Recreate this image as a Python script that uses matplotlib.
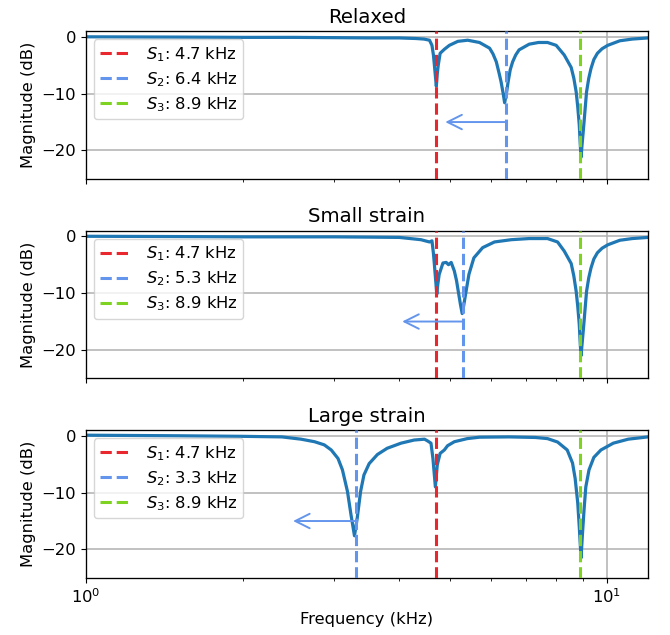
import matplotlib
matplotlib.use("Agg")
import matplotlib.pyplot as plt

# ---------------- data ----------------
titles = ["Relaxed", "Small strain", "Large strain"]
s1_vals = [4.7, 4.7, 4.7]
s2_vals = [6.4, 5.3, 3.3]
s3_vals = [8.9, 8.9, 8.9]
arrow_heads = [4.9, 4.05, 2.5]
arrow_y = -15

freq_relaxed = [1.0, 1.5, 2.0, 2.5, 3.0, 3.5, 4.0, 4.3, 4.46, 4.57, 4.62, 4.65, 4.67,
                4.71, 4.73, 4.75, 4.79, 4.88, 4.99, 5.18, 5.41, 5.70, 5.96, 6.05, 6.14,
                6.22, 6.27, 6.33, 6.37, 6.42, 6.47, 6.53, 6.60, 6.69, 6.79, 7.10, 7.4,
                7.7, 8.0, 8.29, 8.55, 8.65, 8.74, 8.80, 8.86, 8.90, 8.93, 8.97, 9.04,
                9.10, 9.15, 9.24, 9.33, 9.45, 9.6, 9.8, 10.05, 10.6, 11.2, 12.0]
db_relaxed = [0.0, -0.05, -0.1, -0.1, -0.15, -0.2, -0.2, -0.3, -0.4, -0.6, -1.5, -3.2, -5.0,
              -8.7, -6.5, -5.0, -2.9, -2.2, -1.5, -0.8, -0.6, -1.0, -2.0, -3.0, -4.4,
              -6.5, -7.9, -10.0, -11.6, -10.0, -7.9, -5.8, -4.4, -3.2, -2.3, -1.3, -1.0,
              -1.0, -1.5, -3.2, -5.4, -7.3, -9.7, -12.3, -15.5, -19.0, -21.2, -19.0, -15.5,
              -12.3, -9.7, -7.3, -5.6, -4.0, -2.9, -2.1, -1.5, -0.7, -0.4, -0.2]

freq_small = [1.0, 1.5, 2.0, 2.5, 3.0, 3.5, 4.0, 4.40, 4.57, 4.62, 4.65, 4.67, 4.72,
              4.74, 4.77, 4.85, 4.92, 4.97, 5.03, 5.10, 5.15, 5.19, 5.24, 5.28, 5.32,
              5.36, 5.44, 5.56, 5.78, 6.09, 6.56, 7.10, 7.70, 8.05, 8.29, 8.55, 8.65,
              8.74, 8.80, 8.86, 8.90, 8.93, 8.97, 9.04, 9.10, 9.15, 9.24, 9.33, 9.45,
              9.6, 9.8, 10.05, 10.6, 11.2, 12.0]
db_small = [0.0, -0.05, -0.1, -0.1, -0.1, -0.15, -0.2, -0.6, -1.0, -0.8, -3.0, -5.0, -10.2,
            -8.5, -6.7, -4.7, -4.6, -5.0, -4.6, -6.1, -7.8, -9.7, -12.0, -13.6, -12.0,
            -10.2, -6.7, -3.8, -2.0, -1.0, -0.6, -0.4, -0.4, -1.0, -2.6, -4.8, -7.0,
            -9.7, -12.3, -15.5, -19.0, -21.0, -19.0, -15.5, -12.3, -9.7, -7.3, -5.6, -4.0,
            -2.9, -2.1, -1.5, -0.7, -0.4, -0.2]

freq_large = [1.0, 1.5, 2.0, 2.38, 2.59, 2.75, 2.87, 2.96, 3.05, 3.11, 3.18, 3.23,
              3.28, 3.32, 3.37, 3.42, 3.50, 3.63, 3.79, 4.03, 4.27, 4.47, 4.53,
              4.60, 4.64, 4.69, 4.73, 4.79, 4.88, 4.95, 5.10, 5.4, 5.7, 6.5, 7.3,
              7.7, 8.05, 8.4, 8.6, 8.7, 8.8, 8.86, 8.93, 8.99, 9.05, 9.12, 9.25,
              9.45, 9.75, 10.3, 11.0, 12.0]
db_large = [0.1, 0.0, -0.1, -0.2, -0.6, -1.05, -1.6, -2.5, -4.0, -6.0, -9.8, -13.9,
            -17.6, -14.5, -9.8, -6.9, -4.9, -3.3, -2.2, -1.3, -0.75, -0.6, -0.9,
            -1.3, -4.0, -9.0, -5.1, -3.1, -2.5, -1.75, -1.05, -0.5, -0.25, -0.2, -0.3,
            -0.5, -1.1, -2.5, -4.8, -7.5, -11.8, -16.0, -21.5, -17.0, -13.0, -9.0, -6.0,
            -3.8, -2.5, -1.3, -0.6, -0.2]

freqs = [freq_relaxed, freq_small, freq_large]
mags = [db_relaxed, db_small, db_large]

yticks = [0, -10, -20]

# ---------------- style ----------------
c_curve = "#1f77b4"
c_s1 = "#e8282e"
c_s2 = "#6495ed"
c_s3 = "#7ed321"

plt.rcParams["font.size"] = 11.8
plt.rcParams["xtick.labelsize"] = 11.8
plt.rcParams["ytick.labelsize"] = 11.8

fig, axes = plt.subplots(3, 1, figsize=(6.7, 6.35), dpi=100, sharex=True)
fig.subplots_adjust(left=0.128, right=0.967, top=0.951, bottom=0.09, hspace=0.35)

for i, ax in enumerate(axes):
    ax.plot(freqs[i], mags[i], color=c_curve, lw=2.3, zorder=2)
    ax.axvline(s1_vals[i], color=c_s1, ls="--", lw=2.2, label=f"$S_1$: {s1_vals[i]} kHz", zorder=3)
    ax.axvline(s2_vals[i], color=c_s2, ls="--", lw=2.2, label=f"$S_2$: {s2_vals[i]} kHz", zorder=3)
    ax.axvline(s3_vals[i], color=c_s3, ls="--", lw=2.2, label=f"$S_3$: {s3_vals[i]} kHz", zorder=3)
    ax.annotate("", xy=(arrow_heads[i], arrow_y), xytext=(s2_vals[i], arrow_y),
                arrowprops=dict(arrowstyle="->", color=c_s2, lw=1.4, mutation_scale=26,
                                shrinkA=0, shrinkB=0))
    ax.set_xscale("log")
    ax.set_xlim(1, 12)
    ax.set_ylim(-25, 1)
    ax.set_yticks(yticks)
    ax.grid(True, which="major", color="#b0b0b0", lw=1.1)
    ax.set_axisbelow(True)
    ax.set_title(titles[i], fontsize=14.2)
    ax.set_ylabel("Magnitude (dB)", fontsize=11.8)
    ax.legend(loc="upper left", fontsize=11.8, labelspacing=0.38, borderpad=0.35)
    for sp in ax.spines.values():
        sp.set_linewidth(0.95)

axes[-1].set_xlabel("Frequency (kHz)", fontsize=11.8)

fig.savefig("out.png", dpi=100)
